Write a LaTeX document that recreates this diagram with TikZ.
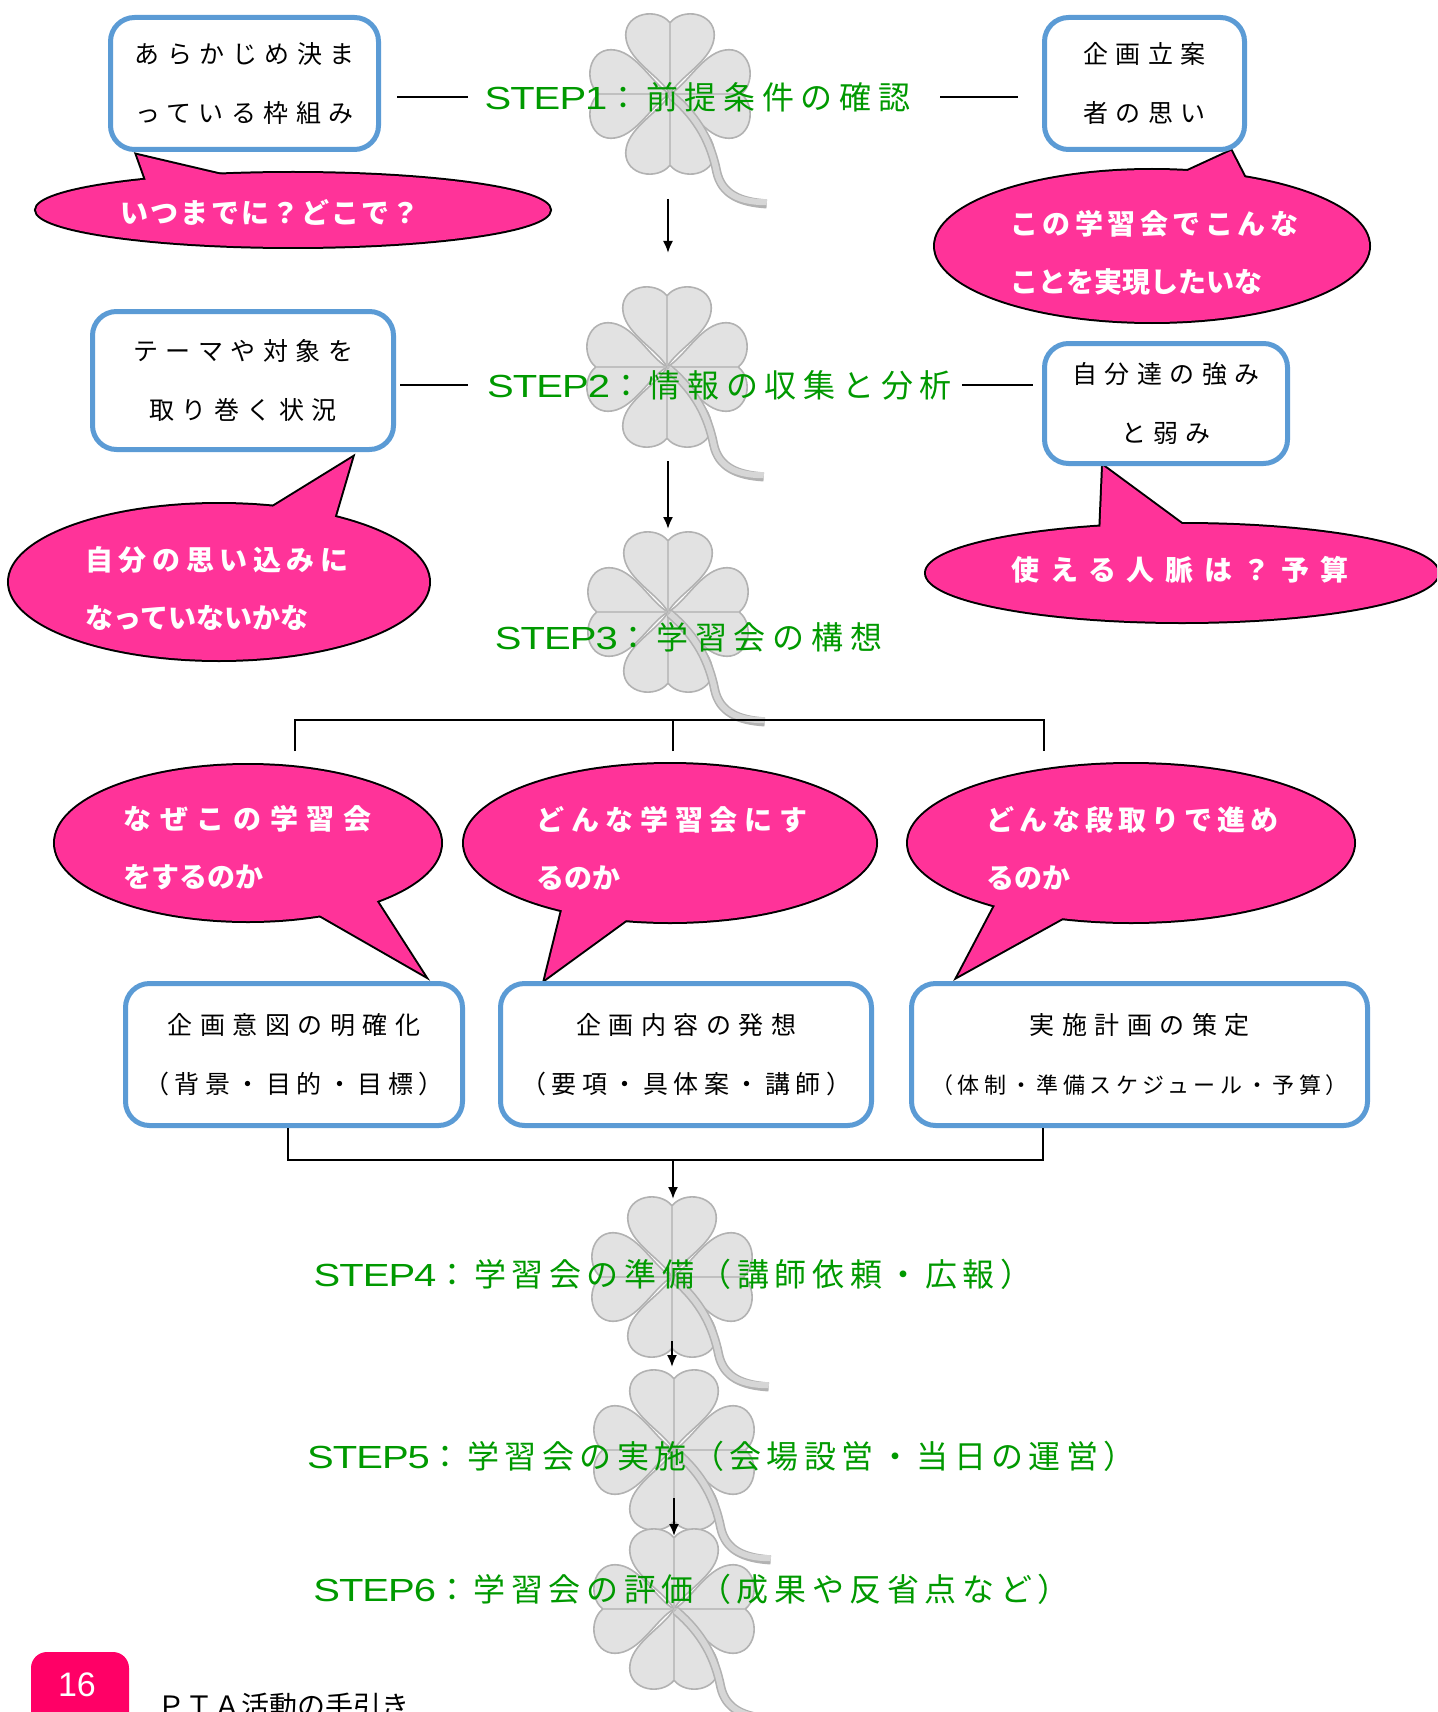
\documentclass[tikz,border=0pt]{standalone}
\usepackage{fontspec}
\usetikzlibrary{arrows.meta}

\newfontfamily\jp{Noto Sans CJK JP}
\newfontfamily\jpbox[LetterSpace=30]{Noto Sans CJK JP}
\newfontfamily\latinsans{Liberation Sans}
\newfontfamily\latinstep[FakeStretch=1.25, LetterSpace=-3]{Liberation Sans}

\definecolor{stepgreen}{RGB}{0,153,0}
\definecolor{bubble}{RGB}{255,51,153}
\definecolor{boxblue}{RGB}{91,155,213}
\definecolor{badgecol}{RGB}{255,0,102}
\definecolor{leaffill}{RGB}{226,226,226}
\definecolor{leafedge}{RGB}{178,178,178}
\definecolor{veincol}{RGB}{192,192,192}
\definecolor{stemfill}{RGB}{214,214,214}

% letter spacing shortcut
\newcommand\ls[1]{\addfontfeature{LetterSpace=#1}}
% green step heading: wide Latin part + Japanese part (#1 = Japanese spacing)
\newcommand\steptext[3]{{\latinstep STEP#2}{\jp\ls{#1}#3}}
% speech bubble: name, centre, x radius, y radius, tail tip, tail base 1, tail base 2
\newcommand\bubbleshape[7]{%
  \coordinate (#1) at (#2);
  \path[draw=black, line width=2pt, fill=bubble] (#5) -- (#6) -- (#7) -- cycle;
  \path[draw=black, line width=2pt] (#1) ellipse [x radius=#3, y radius=#4];
  \fill[bubble] (#1) ellipse [x radius=#3, y radius=#4];
  \fill[bubble] (#5) -- (#6) -- (#7) -- cycle;
}

\tikzset{
  clover/.pic={
    \begin{scope}[x=41pt,y=41pt]
      \foreach \r in {0,90,180,270}{
        \draw[draw=leafedge, line width=0.8pt, fill=leaffill, rotate=\r]
          (0,0) .. controls (-0.12,0.22) and (-0.54,0.42) .. (-0.54,0.72)
          .. controls (-0.54,0.99) and (-0.16,1.06) .. (0,0.87)
          .. controls (0.16,1.06) and (0.54,0.99) .. (0.54,0.72)
          .. controls (0.54,0.42) and (0.12,0.22) .. (0,0) -- cycle;
        \draw[veincol, line width=0.9pt, rotate=\r] (0,0) -- (0,0.87);
      }
      \draw[leafedge, line width=4.6pt]
        (0.02,-0.02) .. controls (0.35,-0.3) and (0.5,-0.6) .. (0.57,-0.95)
        .. controls (0.63,-1.22) and (0.85,-1.32) .. (1.18,-1.34);
      \draw[stemfill, line width=3pt]
        (0.02,-0.02) .. controls (0.35,-0.3) and (0.5,-0.6) .. (0.57,-0.95)
        .. controls (0.63,-1.22) and (0.85,-1.32) .. (1.18,-1.32);
    \end{scope}
  }
}

\begin{document}
\begin{tikzpicture}[x=0.5pt,y=-0.5pt,
  conn/.style={line width=1pt, black},
  arr/.style={line width=1pt, black, -{Latex[length=6pt,width=5pt]}},
  jbox/.style={draw=boxblue, line width=2.5pt, fill=white, rounded corners=12pt,
    align=center, inner sep=0pt, text=black,
    font=\jpbox\fontsize{12.5}{29.5}\selectfont},
  steplbl/.style={inner sep=0pt, outer sep=0pt, text=stepgreen,
    font=\fontsize{16}{19}\selectfont},
  ctext/.style={text=white, align=left, inner sep=0pt, anchor=west,
    font=\jp\bfseries\fontsize{14}{29}\selectfont}]

\useasboundingbox (0,0) rectangle (1437,1712);
\clip (0,0) rectangle (1437,1712);

% clovers behind the step headings
\pic (k1) at (670,94) {clover};
\pic (k2) at (667,367) {clover};
\pic (k3) at (668,612) {clover};
\pic (k4) at (672,1277) {clover};
\pic (k5) at (674,1450) {clover};
\pic (k6) at (674,1609) {clover};

% speech bubbles
\bubbleshape{c1}{293,210}{257}{37}{137,155}{147,183}{235,178}
\bubbleshape{c2}{1152,246}{217}{76}{1231,151}{1168,180}{1250,188}
\bubbleshape{c3}{219,582}{210}{78}{352,458}{258,516}{332,526}
\bubbleshape{c4}{1182,573}{256}{49}{1103,466}{1100,536}{1194,533}
\bubbleshape{c5}{248,843}{193}{78}{424,975}{309,909}{372,894}
\bubbleshape{c6}{670,843}{206}{79}{545,979}{564,902}{637,912}
\bubbleshape{c7}{1131,843}{223}{79}{958,976}{999,898}{1077,910}

\node[ctext, anchor=center] (t1) at (270,212) {\ls{8}いつまでに？どこで？};
\node[ctext] (t2) at (1010,253) {\ls{16}この学習会でこんな\\ことを実現したいな};
\node[ctext] (t3) at (85,589) {\ls{20}自分の思い込みに\\なっていないかな};
\node[ctext, anchor=center] (t4) at (1180,570) {\ls{38}使える人脈は？予算};
\node[ctext] (t5) at (123,848) {\ls{31}なぜこの学習会\\をするのか};
\node[ctext] (t6) at (536,848) {\ls{24}どんな学習会にす\\るのか};
\node[ctext] (t7) at (986,848) {\ls{18}どんな段取りで進め\\るのか};

% framed boxes
\node[jbox, minimum width=134pt, minimum height=66pt] (b1) at (244.5,83.5) {あらかじめ決ま\\っている枠組み};
\node[jbox, minimum width=100pt, minimum height=66pt] (b2) at (1144.5,83.5) {企画立案\\者の思い};
\node[jbox, minimum width=150.5pt, minimum height=69pt] (b3) at (243,380.5) {テーマや対象を\\取り巻く状況};
\node[jbox, minimum width=121.5pt, minimum height=60pt] (b4) at (1166,403.5) {自分達の強み\\と弱み};
\node[jbox, minimum width=168.5pt, minimum height=71pt] (b5) at (294,1054.5) {企画意図の明確化\\{\ls{22}（背景・目的・目標）}};
\node[jbox, minimum width=185.5pt, minimum height=71pt] (b6) at (686,1054.5) {企画内容の発想\\{\ls{22}（要項・具体案・講師）}};
\node[jbox, minimum width=228pt, minimum height=71pt] (b7) at (1139.5,1054.5) {実施計画の策定\\{\fontsize{11}{29.5}\selectfont\ls{20}（体制・準備スケジュール・予算）}};

% step headings
\node[steplbl] (s1) at (697.5,97) {\steptext{21}{1}{：前提条件の確認}};
\node[steplbl] (s2) at (719.5,385) {\steptext{21}{2}{：情報の収集と分析}};
\node[steplbl] (s3) at (688.5,637) {\steptext{21}{3}{：学習会の構想}};
\node[steplbl] (s4) at (673,1274) {\steptext{17.5}{4}{：学習会の準備（講師依頼・広報）}};
\node[steplbl] (s5) at (721.5,1456) {\steptext{17}{5}{：学習会の実施（会場設営・当日の運営）}};
\node[steplbl] (s6) at (691.5,1589) {\steptext{17.5}{6}{：学習会の評価（成果や反省点など）}};

% side links
\draw[conn, shorten <=8pt, shorten >=8.5pt] (b1.east |- s1.west) -- (s1.west);
\draw[conn, shorten <=15pt, shorten >=12pt] (s1.east) -- (s1.east -| b2.west);
\draw[conn, shorten <=2pt, shorten >=9.5pt] (b3.east |- s2.west) -- (s2.west);
\draw[conn, shorten <=5pt, shorten >=4.5pt] (s2.east) -- (s2.east -| b4.west);

% flow arrows
\coordinate (a1s) at (668,199); \coordinate (a1e) at (668,253);
\coordinate (a2s) at (668,461); \coordinate (a2e) at (668,529);
\coordinate (a3s) at (672,1341); \coordinate (a3e) at (672,1367);
\coordinate (a4s) at (674,1498); \coordinate (a4e) at (674,1536);
\draw[arr] (a1s) -- (a1e);
\draw[arr] (a2s) -- (a2e);
\draw[arr] (a3s) -- (a3e);
\draw[arr] (a4s) -- (a4e);

% branching bracket below step 3
\coordinate (tl) at (295,751); \coordinate (tlc) at (295,720);
\coordinate (trc) at (1044,720); \coordinate (tr) at (1044,751);
\coordinate (tm) at (673,751);
\draw[conn] (tl) -- (tlc) -- (trc) -- (tr);
\draw[conn] (tm) -- (tm |- tlc);

% joining bracket above step 4
\coordinate (bl) at (288,1160); \coordinate (br) at (1043,1160);
\coordinate (bm) at (673,1160); \coordinate (a5e) at (673,1199);
\draw[conn] (b5.south -| bl) -- (bl) -- (br) -- (b7.south -| br);
\draw[arr] (bm) -- (a5e);

% page footer
\fill[badgecol, rounded corners=8pt] (31,1652) rectangle (129,1760);
\node[text=white, font=\latinsans\fontsize{17}{20}\selectfont] (pgnum) at (77,1685) {16};
\node[anchor=base west, inner sep=0pt, font=\jp\fontsize{14}{16}\selectfont] (pgtitle) at (157,1716) {ＰＴＡ活動の手引き};

\end{tikzpicture}
\end{document}
